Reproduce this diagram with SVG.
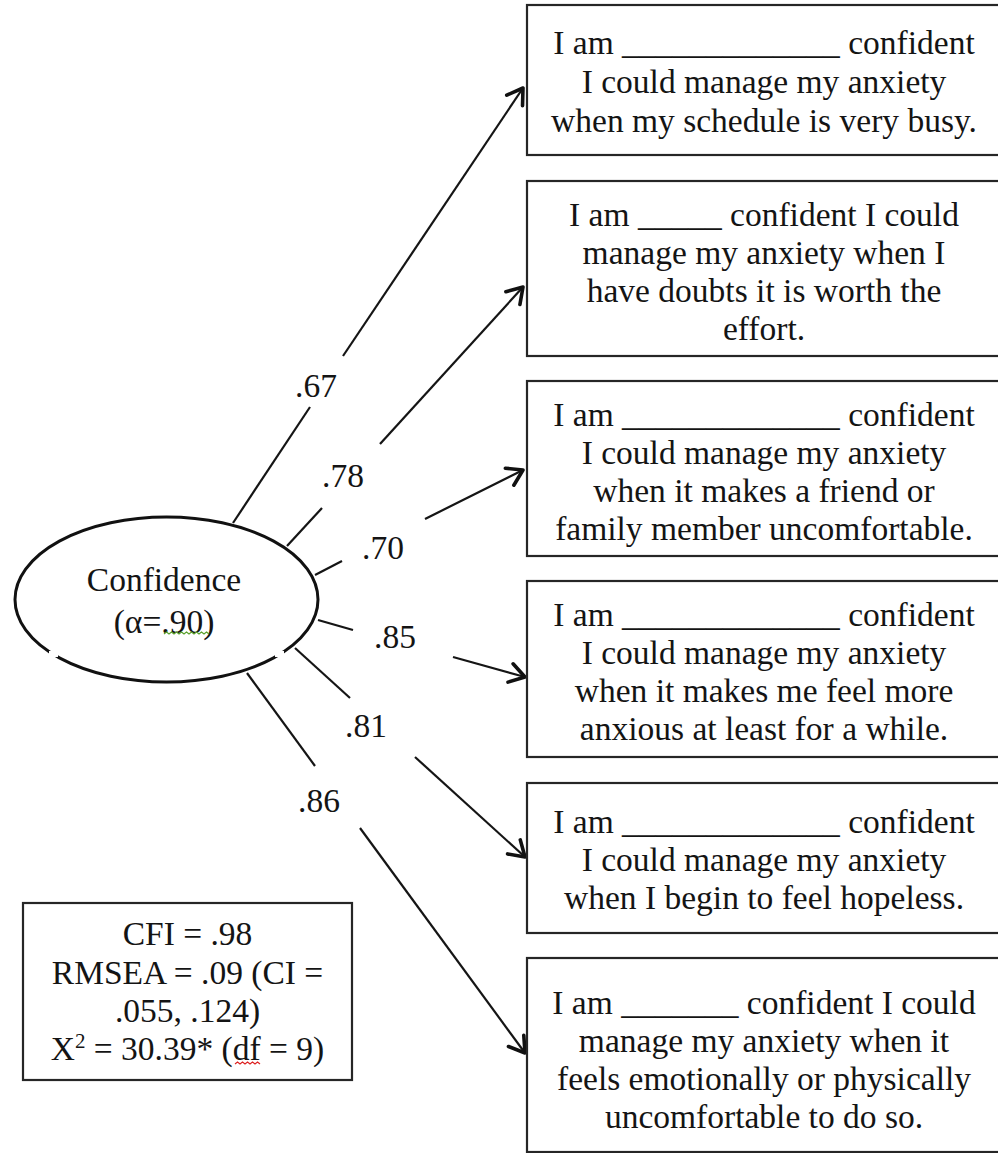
<svg xmlns="http://www.w3.org/2000/svg" width="998" height="1153" viewBox="0 0 998 1153">
  <style>
    .t { font-family: "Liberation Serif", "Times New Roman", serif; font-size: 33.5px; fill: #141414; text-anchor: middle; }
    .box { fill: #ffffff; stroke: #262626; stroke-width: 2.2; }
    .link { fill: none; stroke: #151515; stroke-width: 2.2; stroke-linecap: butt; }
    .squig { fill: none; stroke-width: 1.2; }
  </style>
  <defs>
    <marker id="arrow" markerUnits="userSpaceOnUse" markerWidth="30" markerHeight="30" viewBox="-20 -15 30 30" refX="0" refY="0" orient="auto">
      <path d="M-15,-9.5 L0,0 L-15,9.5" fill="none" stroke="#111" stroke-width="3.6" stroke-linecap="round" stroke-linejoin="round"/>
    </marker>
  </defs>
  <rect width="998" height="1153" fill="#ffffff"/>

  <!-- connectors: each loading split around its coefficient label -->
  <g id="connectors">
    <path class="link" d="M233,523 L310,407"/>
    <path class="link" d="M343,356 L523,88" marker-end="url(#arrow)"/>
    <path class="link" d="M287,546 L322,508"/>
    <path class="link" d="M380,444 L523,287" marker-end="url(#arrow)"/>
    <path class="link" d="M315,575 L342,561"/>
    <path class="link" d="M425,519 L523,470" marker-end="url(#arrow)"/>
    <path class="link" d="M318,620 L353,630"/>
    <path class="link" d="M453,657 L525,677" marker-end="url(#arrow)"/>
    <path class="link" d="M295,648 L350,698"/>
    <path class="link" d="M415,757 L525,857" marker-end="url(#arrow)"/>
    <path class="link" d="M247,673 L315,766"/>
    <path class="link" d="M360,828 L525,1053" marker-end="url(#arrow)"/>
    <text class="t" x="316" y="397">.67</text>
    <text class="t" x="343" y="487">.78</text>
    <text class="t" x="383" y="559">.70</text>
    <text class="t" x="395" y="648">.85</text>
    <text class="t" x="366" y="737">.81</text>
    <text class="t" x="319" y="812">.86</text>
  </g>

  <!-- latent factor -->
  <g id="confidence">
    <ellipse cx="166.5" cy="599.5" rx="151.5" ry="82.5" fill="#ffffff" stroke="#111" stroke-width="3"/>
    <rect x="49" y="651" width="9" height="6" fill="#ffffff"/>
    <rect x="275" y="651" width="9" height="6" fill="#ffffff"/>
    <text class="t" x="164" y="591">Confidence</text>
    <text class="t" x="164" y="633">(α=.90)</text>
    <path class="squig" stroke="#5aa02c" d="M164,634 l2.5,-2 l2.5,2 l2.5,-2 l2.5,2 l2.5,-2 l2.5,2 l2.5,-2 l2.5,2 l2.5,-2 l2.5,2 l2.5,-2 l2.5,2 l2.5,-2 l2.5,2 l2.5,-2 l2.5,2 l2.5,-2 l2.5,2"/>
  </g>

  <!-- indicator items -->
  <g id="item1">
    <rect class="box" x="527" y="5" width="480" height="150"/>
    <text class="t" x="764" y="54">I am _____________ confident</text>
    <text class="t" x="764" y="93">I could manage my anxiety</text>
    <text class="t" x="764" y="132">when my schedule is very busy.</text>
  </g>
  <g id="item2">
    <rect class="box" x="527" y="181" width="480" height="175"/>
    <text class="t" x="764" y="226">I am _____ confident I could</text>
    <text class="t" x="764" y="264">manage my anxiety when I</text>
    <text class="t" x="764" y="302">have doubts it is worth the</text>
    <text class="t" x="764" y="340">effort.</text>
  </g>
  <g id="item3">
    <rect class="box" x="527" y="381" width="480" height="175"/>
    <text class="t" x="764" y="426">I am _____________ confident</text>
    <text class="t" x="764" y="464">I could manage my anxiety</text>
    <text class="t" x="764" y="502">when it makes a friend or</text>
    <text class="t" x="764" y="540">family member uncomfortable.</text>
  </g>
  <g id="item4">
    <rect class="box" x="527" y="581" width="480" height="176"/>
    <text class="t" x="764" y="626">I am _____________ confident</text>
    <text class="t" x="764" y="664">I could manage my anxiety</text>
    <text class="t" x="764" y="702">when it makes me feel more</text>
    <text class="t" x="764" y="740">anxious at least for a while.</text>
  </g>
  <g id="item5">
    <rect class="box" x="527" y="783" width="480" height="150"/>
    <text class="t" x="764" y="833">I am _____________ confident</text>
    <text class="t" x="764" y="871">I could manage my anxiety</text>
    <text class="t" x="764" y="909">when I begin to feel hopeless.</text>
  </g>
  <g id="item6">
    <rect class="box" x="527" y="958" width="480" height="194"/>
    <text class="t" x="764" y="1014">I am _______ confident I could</text>
    <text class="t" x="764" y="1052">manage my anxiety when it</text>
    <text class="t" x="764" y="1090">feels emotionally or physically</text>
    <text class="t" x="764" y="1128">uncomfortable to do so.</text>
  </g>

  <!-- model fit statistics -->
  <g id="fit">
    <rect class="box" x="23" y="903" width="329" height="177"/>
    <text class="t" x="187.5" y="945">CFI = .98</text>
    <text class="t" x="187.5" y="984">RMSEA = .09 (CI =</text>
    <text class="t" x="187.5" y="1022">.055, .124)</text>
    <text class="t" x="187.5" y="1060">X<tspan font-size="21" dy="-12">2</tspan><tspan dy="12"> = 30.39* (df = 9)</tspan></text>
    <path class="squig" stroke="#d22" d="M235,1064 l2.5,-2 l2.5,2 l2.5,-2 l2.5,2 l2.5,-2 l2.5,2 l2.5,-2 l2.5,2 l2.5,-2 l2.5,2"/>
  </g>
</svg>
